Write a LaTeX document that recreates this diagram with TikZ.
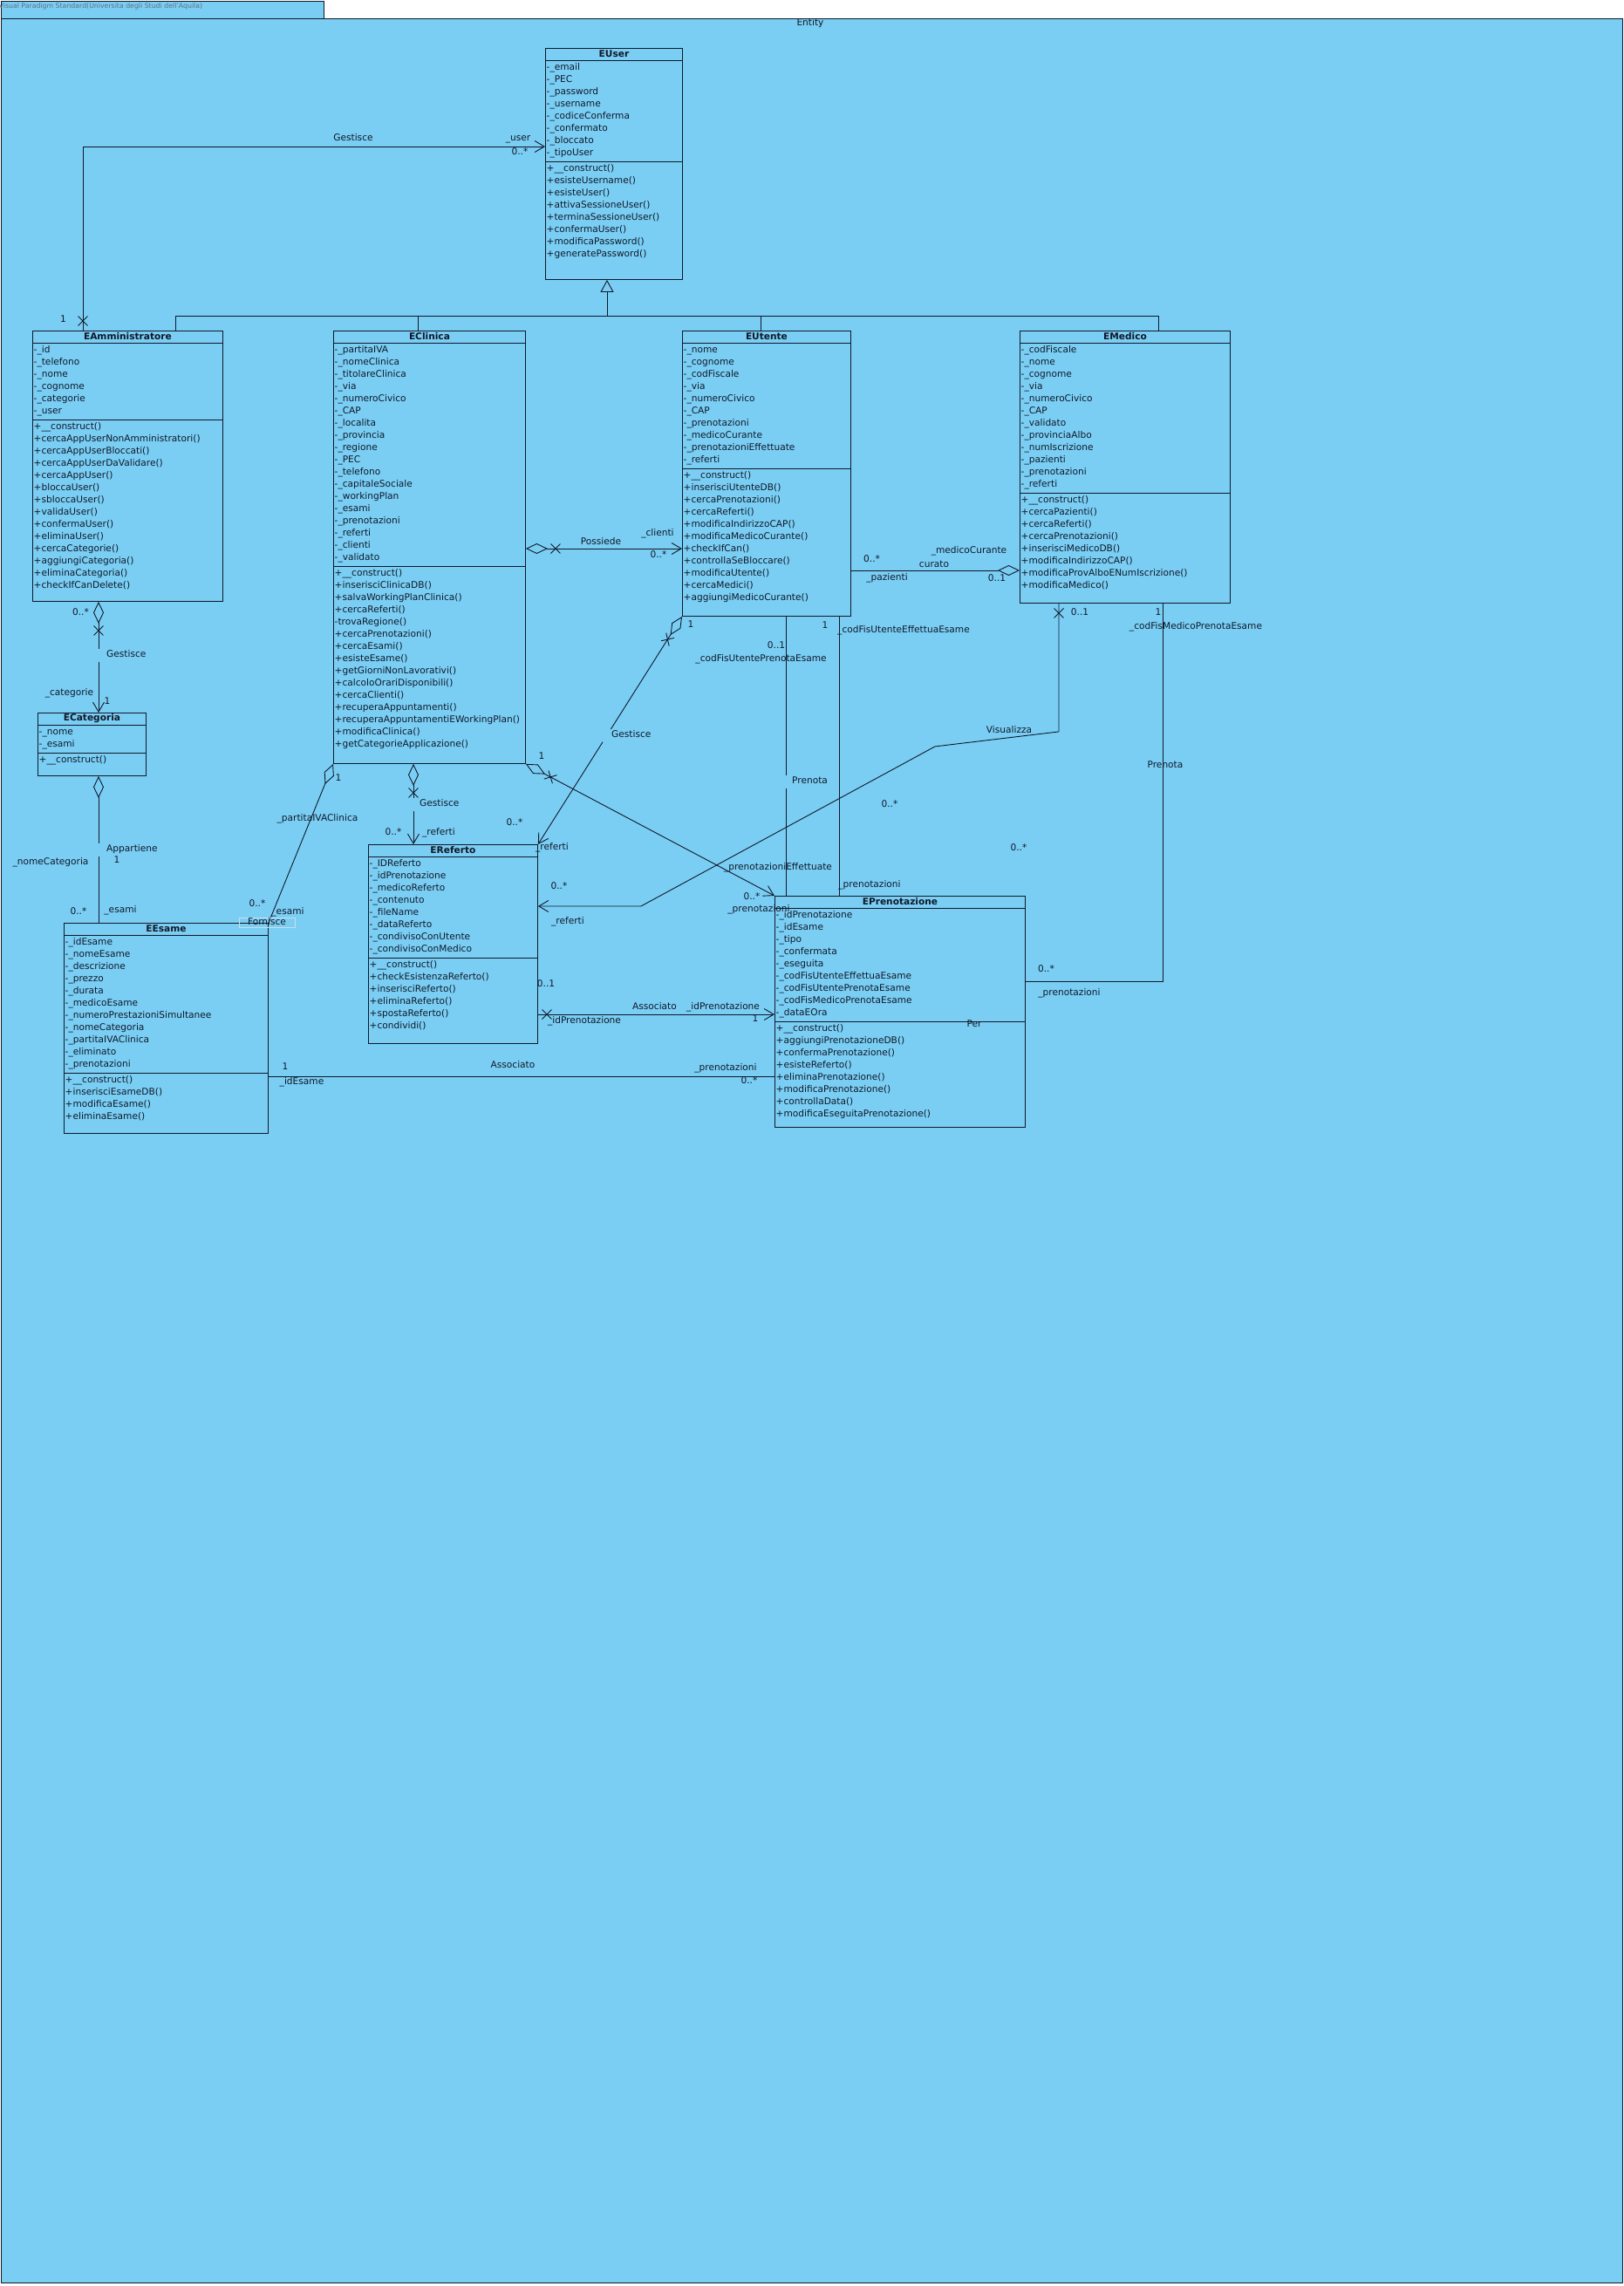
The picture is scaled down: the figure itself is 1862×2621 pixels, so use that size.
\documentclass[tikz,border=0pt]{standalone}
\usepackage{fontspec}
\setmainfont{DejaVu Sans}
\usetikzlibrary{arrows.meta,calc,shapes.misc}

\definecolor{bgc}{RGB}{122,206,244}
\definecolor{ink}{RGB}{16,24,40}
\definecolor{tabtext}{RGB}{95,112,128}
\definecolor{faint}{RGB}{200,222,232}

\tikzset{
  cbox/.style={draw=ink, line width=0.9pt, fill=bgc, rectangle, inner sep=0pt, anchor=north west},
  ctitle/.style={font=\bfseries\fontsize{10.6}{12}\selectfont, text=ink, inner sep=0pt},
  crow/.style={font=\fontsize{10.6}{12}\selectfont, text=ink, inner sep=0pt, anchor=west,
    text height=7.5pt, text depth=2.5pt},
  lbl/.style={font=\fontsize{10.6}{12}\selectfont, text=ink, inner sep=0pt,
    text height=7.5pt, text depth=2.5pt},
  aname/.style={lbl, fill=bgc, inner ysep=2.5pt, anchor=west},
  conn/.style={draw=ink, line width=0.9pt},
  sep/.style={draw=ink, line width=0.9pt},
  nav/.style={-{Straight Barb[length=11pt,width=13pt]}},
  aggs/.style={{Diamond[length=25pt,width=12pt,fill=bgc]}-},
  agge/.style={-{Diamond[length=25pt,width=12pt,fill=bgc]}},
  aggnav/.style={{Diamond[length=25pt,width=12pt,fill=bgc]}-{Straight Barb[length=11pt,width=13pt]}},
  gen/.style={-{Triangle[open,length=14pt,width=15pt]}},
  xm/.style={cross out, draw=ink, line width=0.9pt, minimum width=10pt, minimum height=10pt, inner sep=0pt},
}

% class box: name, x, y, width, height, title, #attributes, attributes, methods
\newcommand\umlclass[9]{%
  \node[cbox, minimum width=#4pt, minimum height=#5pt] (#1) at (#2,#3) {};
  \node[ctitle] (#1-title) at ($(#1.north)+(0,7)$) {#6};
  \draw[sep] ($(#1.north west)+(0,14)$) -- ($(#1.north east)+(0,14)$);
  \draw[sep] ($(#1.north west)+(0,{18+14*#7})$) -- ($(#1.north east)+(0,{18+14*#7})$);
  \foreach \t [count=\i] in {#8}
    \node[crow] (#1-a\i) at ($(#1.north west)+(1.5,{14+9+14*(\i-1)})$) {\t};
  \foreach \t [count=\i] in {#9}
    \node[crow] (#1-m\i) at ($(#1.north west)+(1.5,{18+14*#7+9+14*(\i-1)})$) {\t};
}
\newcommand\lab[4]{\node[lbl] (#1) at (#2,#3) {#4};}

\begin{document}
\begin{tikzpicture}[x=1pt,y=-1pt]
\useasboundingbox (0,0) rectangle (1862,2621);
\fill[white] (0,0) rectangle (1862,2621);

% package frame
\node[cbox, minimum width=1859pt, minimum height=2596pt] (pkg) at (0.6,20.6) {};
\node[cbox, minimum width=370.5pt, minimum height=20pt] (pkgtab) at (0.6,0.6) {};
\node[font=\fontsize{7.8}{9}\selectfont, text=tabtext, inner sep=0pt, anchor=west] (pkgtabtext) at (-1.5,7.5)
  {Visual Paradigm Standard(Universita degli Studi dell'Aquila)};
\lab{pkgname}{929}{27}{Entity}

% classes
\umlclass{euser}{625}{55}{157}{265}{EUser}{8}
 {-\_email,-\_PEC,-\_password,-\_username,-\_codiceConferma,-\_confermato,-\_bloccato,-\_tipoUser}
 {+\_\_construct(),+esisteUsername(),+esisteUser(),+attivaSessioneUser(),+terminaSessioneUser(),+confermaUser(),+modificaPassword(),+generatePassword()}

\umlclass{eadm}{37}{379}{218}{310}{EAmministratore}{6}
 {-\_id,-\_telefono,-\_nome,-\_cognome,-\_categorie,-\_user}
 {+\_\_construct(),+cercaAppUserNonAmministratori(),+cercaAppUserBloccati(),+cercaAppUserDaValidare(),+cercaAppUser(),+bloccaUser(),+sbloccaUser(),+validaUser(),+confermaUser(),+eliminaUser(),+cercaCategorie(),+aggiungiCategoria(),+eliminaCategoria(),+checkIfCanDelete()}

\umlclass{eclin}{382}{379}{220}{496}{EClinica}{18}
 {-\_partitaIVA,-\_nomeClinica,-\_titolareClinica,-\_via,-\_numeroCivico,-\_CAP,-\_localita,-\_provincia,-\_regione,-\_PEC,-\_telefono,-\_capitaleSociale,-\_workingPlan,-\_esami,-\_prenotazioni,-\_referti,-\_clienti,-\_validato}
 {+\_\_construct(),+inserisciClinicaDB(),+salvaWorkingPlanClinica(),+cercaReferti(),-trovaRegione(),+cercaPrenotazioni(),+cercaEsami(),+esisteEsame(),+getGiorniNonLavorativi(),+calcoloOrariDisponibili(),+cercaClienti(),+recuperaAppuntamenti(),+recuperaAppuntamentiEWorkingPlan(),+modificaClinica(),+getCategorieApplicazione()}

\umlclass{eute}{782}{379}{193}{327}{EUtente}{10}
 {-\_nome,-\_cognome,-\_codFiscale,-\_via,-\_numeroCivico,-\_CAP,-\_prenotazioni,-\_medicoCurante,-\_prenotazioniEffettuate,-\_referti}
 {+\_\_construct(),+inserisciUtenteDB(),+cercaPrenotazioni(),+cercaReferti(),+modificaIndirizzoCAP(),+modificaMedicoCurante(),+checkIfCan(),+controllaSeBloccare(),+modificaUtente(),+cercaMedici(),+aggiungiMedicoCurante()}

\umlclass{emed}{1169}{379}{241}{312}{EMedico}{12}
 {-\_codFiscale,-\_nome,-\_cognome,-\_via,-\_numeroCivico,-\_CAP,-\_validato,-\_provinciaAlbo,-\_numIscrizione,-\_pazienti,-\_prenotazioni,-\_referti}
 {+\_\_construct(),+cercaPazienti(),+cercaReferti(),+cercaPrenotazioni(),+inserisciMedicoDB(),+modificaIndirizzoCAP(),+modificaProvAlboENumIscrizione(),+modificaMedico()}

\umlclass{ecat}{43}{817}{124}{72}{ECategoria}{2}
 {-\_nome,-\_esami}
 {+\_\_construct()}

\umlclass{eesa}{73}{1058}{234}{241}{EEsame}{11}
 {-\_idEsame,-\_nomeEsame,-\_descrizione,-\_prezzo,-\_durata,-\_medicoEsame,-\_numeroPrestazioniSimultanee,-\_nomeCategoria,-\_partitaIVAClinica,-\_eliminato,-\_prenotazioni}
 {+\_\_construct(),+inserisciEsameDB(),+modificaEsame(),+eliminaEsame()}

\umlclass{eref}{422}{968}{194}{228}{EReferto}{8}
 {-\_IDReferto,-\_idPrenotazione,-\_medicoReferto,-\_contenuto,-\_fileName,-\_dataReferto,-\_condivisoConUtente,-\_condivisoConMedico}
 {+\_\_construct(),+checkEsistenzaReferto(),+inserisciReferto(),+eliminaReferto(),+spostaReferto(),+condividi()}

\umlclass{epre}{888}{1027}{287}{265}{EPrenotazione}{9}
 {-\_idPrenotazione,-\_idEsame,-\_tipo,-\_confermata,-\_eseguita,-\_codFisUtenteEffettuaEsame,-\_codFisUtentePrenotaEsame,-\_codFisMedicoPrenotaEsame,-\_dataEOra}
 {+\_\_construct(),+aggiungiPrenotazioneDB(),+confermaPrenotazione(),+esisteReferto(),+eliminaPrenotazione(),+modificaPrenotazione(),+controllaData(),+modificaEseguitaPrenotazione()}

% generalization towards EUser
\coordinate (gbus) at ($(euser.south west)+(71,42)$);
\draw[conn] ($(eadm.north west)+(164,0)$) |- (gbus);
\draw[conn] ($(eclin.north west)+(97,0)$) |- (gbus);
\draw[conn] ($(eute.north west)+(90,0)$) |- (gbus);
\draw[conn] ($(emed.north west)+(159,0)$) |- (gbus);
\draw[conn, gen] (gbus) -- (gbus |- euser.south);

% EAmministratore -> EUser
\coordinate (c2a) at ($(eadm.north west)+(58,0)$);
\coordinate (c2b) at ($(euser.north west)+(0,113)$);
\draw[conn, nav] (c2a) |- (c2b);
\node[xm] (c2x) at ($(c2a)+(0,-11)$) {};
\lab{c2m1}{72.5}{367}{1}
\lab{c2n}{405}{159}{Gestisce}
\lab{c2r2}{594}{159}{\_user}
\lab{c2m2}{596}{175}{0..*}

% EAmministratore <>-> ECategoria
\coordinate (c3a) at ($(eadm.south west)+(76,0)$);
\coordinate (c3b) at (c3a |- ecat.north);
\draw[conn, aggnav] (c3a) -- (c3b);
\node[xm] (c3x) at ($(c3a)+(0,33)$) {};
\lab{c3m1}{92.5}{703}{0..*}
\node[aname] (c3n) at (111,751) {\hspace*{11pt}Gestisce};
\lab{c3r2}{79.5}{794.5}{\_categorie}
\lab{c3m2}{123}{804.5}{1}

% ECategoria <>- EEsame
\coordinate (c4a) at (c3a |- ecat.south);
\coordinate (c4b) at (c3a |- eesa.north);
\draw[conn, aggs] (c4a) -- (c4b);
\node[aname] (c4n) at (111,974) {\hspace*{11pt}Appartiene};
\lab{c4m1}{134}{987}{1}
\lab{c4r1}{58}{989}{\_nomeCategoria}
\lab{c4m2}{90}{1045.5}{0..*}
\lab{c4r2}{138}{1044}{\_esami}

% EClinica <>-> EUtente
\coordinate (c5a) at ($(eclin.north east)+(0,250)$);
\coordinate (c5b) at (c5a -| eute.west);
\draw[conn, aggnav] (c5a) -- (c5b);
\node[xm] (c5x) at ($(c5a)+(34,0)$) {};
\lab{c5n}{689}{622}{Possiede}
\lab{c5r2}{754}{612}{\_clienti}
\lab{c5m2}{755}{637}{0..*}

% EUtente -<> EMedico
\coordinate (c6a) at ($(eute.north east)+(0,275)$);
\coordinate (c6b) at (c6a -| emed.west);
\draw[conn, agge] (c6a) -- (c6b);
\lab{c6m1}{999.6}{642}{0..*}
\lab{c6r2}{1111}{632}{\_medicoCurante}
\lab{c6n}{1071}{648}{curato}
\lab{c6r1}{1017}{663}{\_pazienti}
\lab{c6m2}{1143}{663.6}{0..1}

% EUtente <>-> EReferto
\draw[conn, aggnav] (eute.south west) -- (eref.north east);
\path ($(eute.south west)!31pt!(eref.north east)$) -- (eref.north east) node[xm, pos=0, sloped] (c7x) {};
\lab{c7m1}{792}{717}{1}
\node[aname] (c7n) at (691,843) {\hspace*{10pt}Gestisce};
\lab{c7m2}{590}{944}{0..*}
\lab{c7r2}{633}{972}{\_referti}

% EClinica <>- EEsame
\draw[conn, aggs] (eclin.south west) -- (eesa.north east);
\lab{c8m1}{388}{893}{1}
\lab{c8r1}{364}{939}{\_partitaIVAClinica}
\lab{c8m2}{295}{1037}{0..*}
\lab{c8r2}{330}{1046}{\_esami}
\node[lbl, draw=faint, line width=0.5pt, minimum width=64pt, minimum height=11pt] (c8n) at (306,1058) {Fornisce};

% EClinica <>-> EPrenotazione
\draw[conn, aggnav] (eclin.south east) -- (epre.north west);
\path ($(eclin.south east)!32pt!(epre.north west)$) -- (epre.north west) node[xm, pos=0, sloped] (c9x) {};
\lab{c9m1}{621}{868}{1}
\lab{c9m2}{862}{1029}{0..*}
\lab{c9r2}{870}{1043}{\_prenotazioni}

% EUtente - EPrenotazione (Prenota)
\coordinate (c10a) at ($(eute.south west)+(119,0)$);
\draw[conn] (c10a) -- (c10a |- epre.north);
\lab{c10m1}{890}{741}{0..1}
\lab{c10r1}{872.6}{756}{\_codFisUtentePrenotaEsame}
\node[aname] (c10n) at (898,896) {\hspace*{10pt}Prenota};
\lab{c10r2}{892}{995}{\_prenotazioniEffettuate}

% EUtente - EPrenotazione (Effettua)
\coordinate (c11a) at ($(eute.south west)+(180,0)$);
\draw[conn] (c11a) -- (c11a |- epre.north);
\lab{c11m1}{946}{718}{1}
\lab{c11r1}{1036}{723}{\_codFisUtenteEffettuaEsame}
\lab{c11m2}{1020}{923}{0..*}
\lab{c11r2}{997}{1015}{\_prenotazioni}

% EMedico -> EReferto (Visualizza)
\coordinate (c12a) at ($(emed.south west)+(45,0)$);
\coordinate (c12b) at ($(c12a)+(0,147)$);
\coordinate (c12c) at ($(c12a)+(-142,164)$);
\coordinate (c12d) at ($(eref.north east)+(118,71)$);
\coordinate (c12e) at (c12d -| eref.east);
\draw[conn, nav] (c12a) -- (c12b) -- (c12c) -- (c12d) -- (c12e);
\node[xm] (c12x) at ($(c12a)+(0,11)$) {};
\lab{c12m1}{1238}{703}{0..1}
\lab{c12n}{1157}{838}{Visualizza}
\lab{c12m2}{641}{1017}{0..*}
\lab{c12r2}{651}{1057}{\_referti}

% EReferto -> EPrenotazione (Associato)
\coordinate (c13a) at ($(eref.north east)+(0,195)$);
\draw[conn, nav] (c13a) -- (c13a -| epre.west);
\node[xm] (c13x) at ($(c13a)+(10,0)$) {};
\lab{c13m1}{626}{1129}{0..1}
\lab{c13r1}{670}{1170.7}{\_idPrenotazione}
\lab{c13n}{750.5}{1155}{Associato}
\lab{c13r2}{829}{1155}{\_idPrenotazione}
\lab{c13m2}{866}{1169}{1}

% EEsame - EPrenotazione (Associato)
\coordinate (c14a) at ($(eesa.north east)+(0,176)$);
\draw[conn] (c14a) -- (c14a -| epre.west);
\lab{c14m1}{327}{1224}{1}
\lab{c14r1}{346}{1240.5}{\_idEsame}
\lab{c14n}{588}{1222}{Associato}
\lab{c14r2}{832}{1225}{\_prenotazioni}
\lab{c14m2}{859}{1240}{0..*}

% EMedico - EPrenotazione (Prenota)
\coordinate (c15a) at ($(emed.south west)+(164,0)$);
\coordinate (c15b) at ($(epre.north east)+(0,98)$);
\draw[conn] (c15a) |- (c15b);
\lab{c15m1}{1328}{703}{1}
\lab{c15r1}{1371}{719}{\_codFisMedicoPrenotaEsame}
\lab{c15n}{1336}{878}{Prenota}
\lab{c15m2}{1199.5}{1112}{0..*}
\lab{c15r2}{1226}{1139}{\_prenotazioni}
\lab{c15x}{1168}{973}{0..*}

% EClinica <>-> EReferto
\coordinate (c16a) at ($(eclin.south west)+(92,0)$);
\draw[conn, aggnav] (c16a) -- (c16a |- eref.north);
\node[xm] (c16x) at ($(c16a)+(0,33)$) {};
\node[aname] (c16n) at (471,922) {\hspace*{10pt}Gestisce};
\lab{c16m2}{451}{955}{0..*}
\lab{c16r2}{503}{955}{\_referti}

\lab{pern}{1117}{1175}{Per}
\end{tikzpicture}
\end{document}
